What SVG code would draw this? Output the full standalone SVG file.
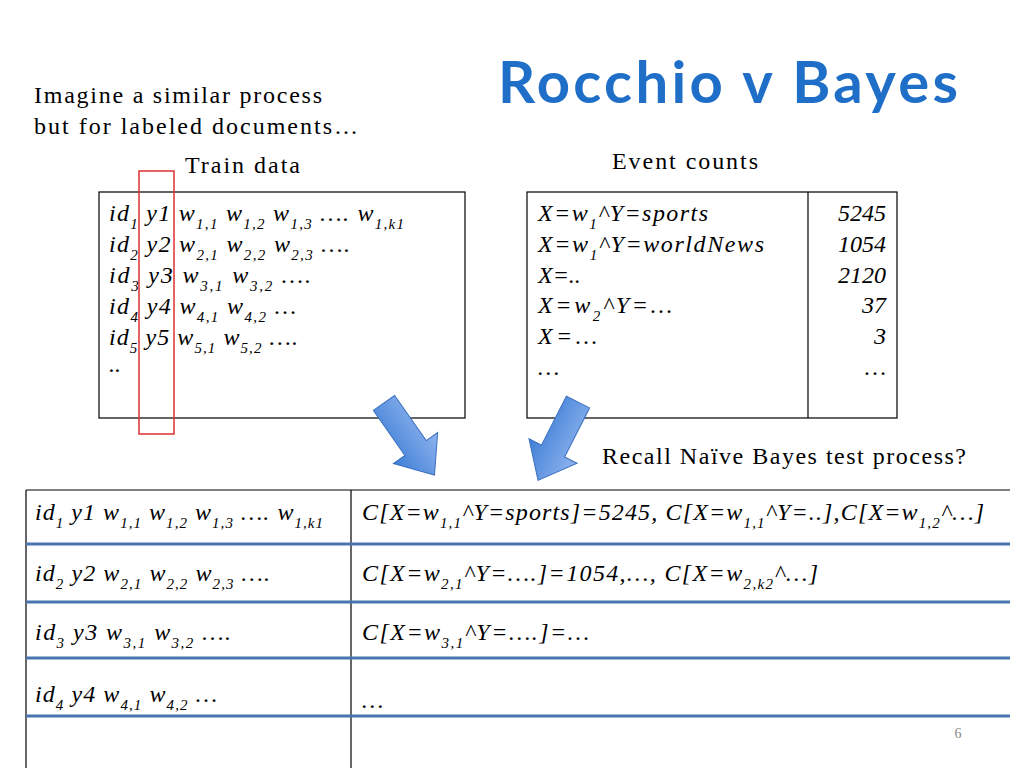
<svg xmlns="http://www.w3.org/2000/svg" width="1024" height="768" viewBox="0 0 1024 768">
<defs>
<style>
.t{font-family:"Liberation Serif","DejaVu Serif",serif;font-size:24px;fill:#000}
.i{font-style:italic}
.b{font-family:"Liberation Serif","DejaVu Serif",serif;font-size:24px;font-style:italic}
.s{font-size:15px}
.box{fill:none;stroke:#000;stroke-width:1.2}
.bl{stroke:#4a74b0;stroke-width:3}
</style>
<linearGradient id="g" x1="0" y1="0" x2="0" y2="1">
<stop offset="0" stop-color="#8fb4ee"/><stop offset="1" stop-color="#3f7fd6"/>
</linearGradient>
<polygon id="arr" points="0,-13 55,-13 55,-27 88,0 55,27 55,13 0,13" fill="url(#g)" stroke="#3a6fc0" stroke-width="1"/>
</defs>
<text x="498" y="103" font-family="Lato,'Open Sans',sans-serif" font-size="58" font-weight="bold" fill="#1f6fc8" textLength="460">Rocchio v Bayes</text>
<text class="t" x="34" y="103" textLength="288">Imagine a similar process</text>
<text class="t" x="34" y="134" textLength="324">but for labeled documents…</text>
<text class="t" x="185" y="173" textLength="115">Train data</text>
<text class="t" x="612" y="169" textLength="146">Event counts</text>
<text class="t" x="602" y="464" textLength="364">Recall Naïve Bayes test process?</text>
<g id="train">
<rect class="box" x="99" y="192" width="366" height="226"/>
<g class="t i">
<text x="109" y="221" textLength="295">id<tspan class="s" baseline-shift="sub">1</tspan> y1  w<tspan class="s" baseline-shift="sub">1,1</tspan> w<tspan class="s" baseline-shift="sub">1,2</tspan> w<tspan class="s" baseline-shift="sub">1,3</tspan> …. w<tspan class="s" baseline-shift="sub">1,k1</tspan></text>
<text x="109" y="252" textLength="241">id<tspan class="s" baseline-shift="sub">2</tspan> y2  w<tspan class="s" baseline-shift="sub">2,1</tspan> w<tspan class="s" baseline-shift="sub">2,2</tspan> w<tspan class="s" baseline-shift="sub">2,3</tspan> ….</text>
<text x="109" y="283" textLength="202">id<tspan class="s" baseline-shift="sub">3</tspan> y3  w<tspan class="s" baseline-shift="sub">3,1</tspan> w<tspan class="s" baseline-shift="sub">3,2</tspan>  ….</text>
<text x="109" y="314" textLength="187">id<tspan class="s" baseline-shift="sub">4</tspan> y4  w<tspan class="s" baseline-shift="sub">4,1</tspan> w<tspan class="s" baseline-shift="sub">4,2</tspan> …</text>
<text x="109" y="345" textLength="189">id<tspan class="s" baseline-shift="sub">5</tspan> y5 w<tspan class="s" baseline-shift="sub">5,1</tspan> w<tspan class="s" baseline-shift="sub">5,2</tspan> ….</text>
<text x="109" y="372">..</text>
</g>
<rect x="139" y="171" width="35" height="263" fill="none" stroke="#e03030" stroke-width="1.5"/>
</g>
<g id="counts">
<rect class="box" x="527" y="192" width="370" height="226"/>
<line class="box" x1="808" y1="192" x2="808" y2="418"/>
<g class="t i">
<text x="538" y="221" textLength="170">X=w<tspan class="s" baseline-shift="sub">1</tspan>^Y=sports</text>
<text x="538" y="252" textLength="226">X=w<tspan class="s" baseline-shift="sub">1</tspan>^Y=worldNews</text>
<text x="538" y="283">X=..</text>
<text x="538" y="313" textLength="134">X=w<tspan class="s" baseline-shift="sub">2</tspan>^Y=…</text>
<text x="538" y="344" textLength="59">X=…</text>
<text x="538" y="375">…</text>
</g>
<g class="t i" text-anchor="end">
<text x="886" y="221">5245</text>
<text x="886" y="252">1054</text>
<text x="886" y="283">2120</text>
<text x="886" y="313">37</text>
<text x="886" y="344">3</text>
<text x="886" y="375">…</text>
</g>
</g>
<g id="arrows">
<use href="#arr" transform="translate(384,403) rotate(55)"/>
<use href="#arr" transform="translate(578,402) rotate(117)"/>
</g>
<g id="table">
<line class="box" x1="26" y1="490" x2="1010" y2="490"/>
<line class="box" x1="26" y1="490" x2="26" y2="768"/>
<line class="box" x1="351" y1="490" x2="351" y2="768"/>
<line class="bl" x1="26" y1="544" x2="1010" y2="544"/>
<line class="bl" x1="26" y1="602" x2="1010" y2="602"/>
<line class="bl" x1="26" y1="658" x2="1010" y2="658"/>
<line class="bl" x1="26" y1="716" x2="1010" y2="716"/>
<g class="b">
<text x="35" y="520" textLength="288">id<tspan class="s" baseline-shift="sub">1</tspan> y1 w<tspan class="s" baseline-shift="sub">1,1</tspan> w<tspan class="s" baseline-shift="sub">1,2</tspan> w<tspan class="s" baseline-shift="sub">1,3</tspan> …. w<tspan class="s" baseline-shift="sub">1,k1</tspan></text>
<text x="35" y="581" textLength="235">id<tspan class="s" baseline-shift="sub">2</tspan> y2 w<tspan class="s" baseline-shift="sub">2,1</tspan> w<tspan class="s" baseline-shift="sub">2,2</tspan> w<tspan class="s" baseline-shift="sub">2,3</tspan> ….</text>
<text x="35" y="640" textLength="196">id<tspan class="s" baseline-shift="sub">3</tspan> y3 w<tspan class="s" baseline-shift="sub">3,1</tspan> w<tspan class="s" baseline-shift="sub">3,2</tspan>  ….</text>
<text x="35" y="702" textLength="182">id<tspan class="s" baseline-shift="sub">4</tspan> y4 w<tspan class="s" baseline-shift="sub">4,1</tspan> w<tspan class="s" baseline-shift="sub">4,2</tspan> …</text>
<text x="362" y="520" textLength="622">C[X=w<tspan class="s" baseline-shift="sub">1,1</tspan>^Y=sports]=5245, C[X=w<tspan class="s" baseline-shift="sub">1,1</tspan>^Y=..],C[X=w<tspan class="s" baseline-shift="sub">1,2</tspan>^…]</text>
<text x="362" y="581" textLength="456">C[X=w<tspan class="s" baseline-shift="sub">2,1</tspan>^Y=….]=1054,…, C[X=w<tspan class="s" baseline-shift="sub">2,k2</tspan>^…]</text>
<text x="362" y="640" textLength="227">C[X=w<tspan class="s" baseline-shift="sub">3,1</tspan>^Y=….]=…</text>
<text x="362" y="708">…</text>
</g>
</g>
<text x="958" y="738" font-family="'Liberation Serif',serif" font-size="14" fill="#888" text-anchor="middle">6</text>
</svg>
